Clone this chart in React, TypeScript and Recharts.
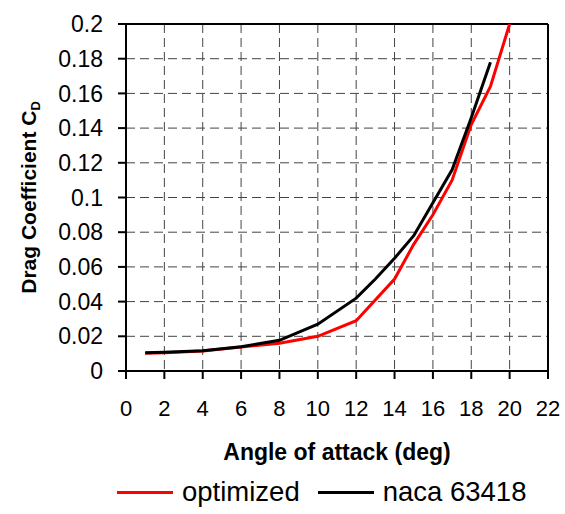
import React from "react";
import {
  CartesianGrid,
  Legend,
  Line,
  LineChart,
  ReferenceLine,
  XAxis,
  YAxis,
} from "recharts";

const ANGLES_OPT = [1, 2, 4, 6, 8, 10, 12, 14, 15, 16, 17, 18, 19, 20];
const CD_OPT = [0.0102, 0.0105, 0.0115, 0.0138, 0.016, 0.02, 0.029, 0.053, 0.073, 0.09, 0.11, 0.142, 0.164, 0.2];

const ANGLES_NACA = [1, 2, 4, 6, 8, 10, 12, 13, 14, 15, 16, 17, 18, 19];
const CD_NACA = [0.0105, 0.0108, 0.0117, 0.014, 0.0177, 0.027, 0.042, 0.053, 0.065, 0.078, 0.097, 0.116, 0.146, 0.178];

const X_TICKS = [0, 2, 4, 6, 8, 10, 12, 14, 16, 18, 20, 22];
const Y_TICKS = [0, 0.02, 0.04, 0.06, 0.08, 0.1, 0.12, 0.14, 0.16, 0.18, 0.2];

const SERIES = [
  { key: "optimized", color: "#ff0000", xs: ANGLES_OPT, ys: CD_OPT },
  { key: "naca 63418", color: "#000000", xs: ANGLES_NACA, ys: CD_NACA },
];

const FONT = "'Liberation Sans', Arial, sans-serif";

function LegendBox() {
  return (
    <div
      style={{
        height: 44,
        display: "flex",
        alignItems: "center",
        fontFamily: FONT,
        fontSize: 27.5,
        color: "#000",
      }}
    >
      {SERIES.map((s, i) => (
        <div key={s.key} style={{ display: "flex", alignItems: "center", marginLeft: i ? 18 : 0 }}>
          <div style={{ width: 56, height: 3, background: s.color, marginRight: 9 }} />
          <span>{s.key}</span>
        </div>
      ))}
    </div>
  );
}

function YTitle(props: any) {
  const vb = props.viewBox;
  const x = vb.x + 28;
  const y = vb.y + vb.height / 2;
  return (
    <text
      x={x}
      y={y}
      transform={`rotate(-90, ${x}, ${y})`}
      textAnchor="middle"
      dominantBaseline="central"
      fontFamily={FONT}
      fontWeight="bold"
      fontSize={21}
      fill="#000"
    >
      Drag Coefficient C
      <tspan fontSize={13} dy={7}>
        D
      </tspan>
    </text>
  );
}

export default function App() {
  return (
    <div style={{ position: "absolute", left: 0, top: 0, width: 565, height: 514, background: "#fff" }}>
      <LineChart
        width={565}
        height={514}
        margin={{ top: 24, right: 17, left: 0, bottom: 0 }}
        style={{ fontFamily: FONT }}
      >
        <CartesianGrid stroke="#444" strokeDasharray="9 5" />
        <XAxis
          type="number"
          dataKey="x"
          domain={[0, 22]}
          ticks={X_TICKS}
          interval={0}
          height={99}
          allowDuplicatedCategory={false}
          axisLine={{ stroke: "#000", strokeWidth: 2 }}
          tickLine={{ stroke: "#000", strokeWidth: 2 }}
          tickSize={8}
          tickMargin={21}
          tick={{ fontSize: 22, fill: "#000" }}
          label={{
            value: "Angle of attack (deg)",
            position: "insideBottom",
            offset: 10,
            style: { fontSize: 23, fontWeight: "bold", fill: "#000" },
          }}
        />
        <YAxis
          type="number"
          domain={[0, 0.2]}
          ticks={Y_TICKS}
          interval={0}
          width={126}
          axisLine={{ stroke: "#000", strokeWidth: 2 }}
          tickLine={{ stroke: "#000", strokeWidth: 2 }}
          tickSize={8}
          tickMargin={15}
          tick={{ fontSize: 23, fill: "#000" }}
          tickFormatter={(v: number) => String(Number(v.toFixed(2)))}
          label={<YTitle />}
        />
        <ReferenceLine y={0.2} stroke="#000" strokeWidth={2} />
        <ReferenceLine x={22} stroke="#000" strokeWidth={2} />
        <Legend
          verticalAlign="bottom"
          content={<LegendBox />}
          wrapperStyle={{ left: 117, width: 440, bottom: 0 }}
        />
        {SERIES.map((s) => (
          <Line
            key={s.key}
            name={s.key}
            data={s.xs.map((x, i) => ({ x, y: s.ys[i] }))}
            dataKey="y"
            type="linear"
            stroke={s.color}
            strokeWidth={3}
            dot={false}
            isAnimationActive={false}
          />
        ))}
      </LineChart>
    </div>
  );
}
